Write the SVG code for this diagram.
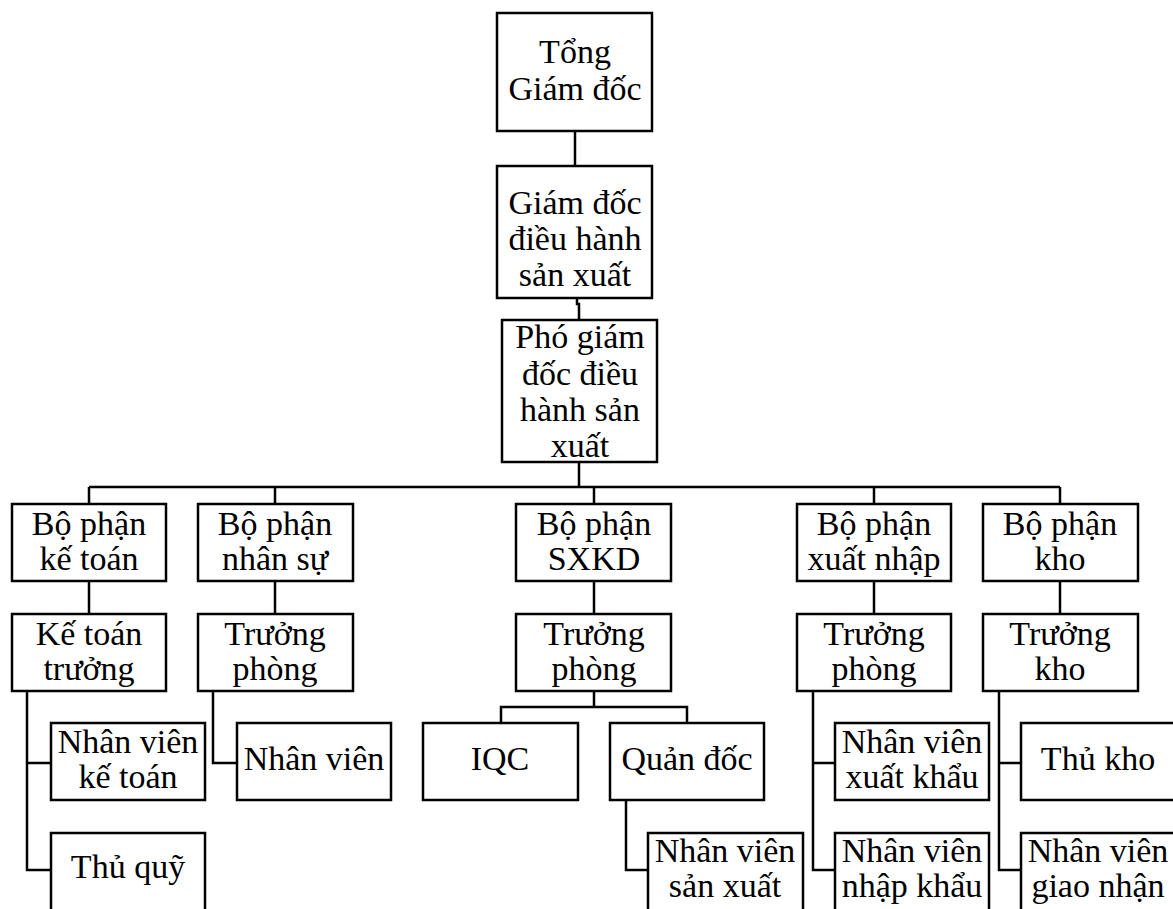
<svg xmlns="http://www.w3.org/2000/svg" width="1173" height="909" viewBox="0 0 1173 909">
<style>
.b{fill:#fff;stroke:#000;stroke-width:2.5}
.t{font-family:"Liberation Serif","Times New Roman",serif;font-size:34px;fill:#000;text-anchor:middle}
.c{fill:none;stroke:#000;stroke-width:2.5}
</style>
<rect width="1173" height="909" fill="#fff"/>
<g id="connectors">
<path class="c" d="M575 131V166"/>
<path class="c" d="M577 298V304H579V320"/>
<path class="c" d="M579 462V487"/>
<path class="c" d="M89 487H1060"/>
<path class="c" d="M89 487V504M275 487V504M594 487V504M874 487V504M1060 487V504"/>
<path class="c" d="M89 581V614M275 581V614M594 581V614M874 581V614M1060 581V614"/>
<path class="c" d="M27 691V870H51M27 763H51"/>
<path class="c" d="M213 691V763H237"/>
<path class="c" d="M594 691V707M501 723V707H687V723"/>
<path class="c" d="M626 800V870H648"/>
<path class="c" d="M813 691V870H835M813 763H835"/>
<path class="c" d="M999 691V870H1021M999 763H1021"/>
</g>
<g id="tgd"><rect class="b" x="497" y="13" width="155" height="118"/><text class="t" x="575" y="63">Tổng</text><text class="t" x="575" y="100">Giám đốc</text></g>
<g id="gddh"><rect class="b" x="497" y="166" width="155" height="132"/><text class="t" x="575" y="214">Giám đốc</text><text class="t" x="575" y="250">điều hành</text><text class="t" x="575" y="286">sản xuất</text></g>
<g id="pgd"><rect class="b" x="502" y="320" width="155" height="142"/><text class="t" x="580" y="348">Phó giám</text><text class="t" x="580" y="385">đốc điều</text><text class="t" x="580" y="421">hành sản</text><text class="t" x="580" y="457">xuất</text></g>
<g id="bpkt"><rect class="b" x="12" y="504" width="154" height="77"/><text class="t" x="89" y="535">Bộ phận</text><text class="t" x="89" y="570">kế toán</text></g>
<g id="bpns"><rect class="b" x="198" y="504" width="155" height="77"/><text class="t" x="275" y="535">Bộ phận</text><text class="t" x="275" y="570">nhân sự</text></g>
<g id="bpsx"><rect class="b" x="516" y="504" width="155" height="77"/><text class="t" x="594" y="535">Bộ phận</text><text class="t" x="594" y="570">SXKD</text></g>
<g id="bpxn"><rect class="b" x="797" y="504" width="154" height="77"/><text class="t" x="874" y="535">Bộ phận</text><text class="t" x="874" y="570">xuất nhập</text></g>
<g id="bpk"><rect class="b" x="983" y="504" width="155" height="77"/><text class="t" x="1060" y="535">Bộ phận</text><text class="t" x="1060" y="570">kho</text></g>
<g id="ktt"><rect class="b" x="12" y="614" width="154" height="77"/><text class="t" x="89" y="645">Kế toán</text><text class="t" x="89" y="680">trưởng</text></g>
<g id="tpns"><rect class="b" x="198" y="614" width="155" height="77"/><text class="t" x="275" y="645">Trưởng</text><text class="t" x="275" y="680">phòng</text></g>
<g id="tpsx"><rect class="b" x="516" y="614" width="155" height="77"/><text class="t" x="594" y="645">Trưởng</text><text class="t" x="594" y="680">phòng</text></g>
<g id="tpxn"><rect class="b" x="797" y="614" width="154" height="77"/><text class="t" x="874" y="645">Trưởng</text><text class="t" x="874" y="680">phòng</text></g>
<g id="tk"><rect class="b" x="983" y="614" width="155" height="77"/><text class="t" x="1060" y="645">Trưởng</text><text class="t" x="1060" y="680">kho</text></g>
<g id="nvkt"><rect class="b" x="51" y="723" width="154" height="77"/><text class="t" x="128" y="753">Nhân viên</text><text class="t" x="128" y="788">kế toán</text></g>
<g id="tq"><rect class="b" x="51" y="833" width="154" height="80"/><text class="t" x="128" y="878">Thủ quỹ</text></g>
<g id="nvns"><rect class="b" x="237" y="723" width="154" height="77"/><text class="t" x="314" y="770">Nhân viên</text></g>
<g id="iqc"><rect class="b" x="423" y="723" width="155" height="77"/><text class="t" x="500" y="770">IQC</text></g>
<g id="qd"><rect class="b" x="610" y="723" width="154" height="77"/><text class="t" x="687" y="770">Quản đốc</text></g>
<g id="nvsx"><rect class="b" x="648" y="833" width="155" height="80"/><text class="t" x="725" y="862">Nhân viên</text><text class="t" x="725" y="897">sản xuất</text></g>
<g id="nvxk"><rect class="b" x="835" y="723" width="154" height="77"/><text class="t" x="912" y="753">Nhân viên</text><text class="t" x="912" y="788">xuất khẩu</text></g>
<g id="nvnk"><rect class="b" x="835" y="833" width="154" height="80"/><text class="t" x="912" y="862">Nhân viên</text><text class="t" x="912" y="897">nhập khẩu</text></g>
<g id="thk"><rect class="b" x="1021" y="723" width="154" height="77"/><text class="t" x="1098" y="770">Thủ kho</text></g>
<g id="nvgn"><rect class="b" x="1021" y="833" width="154" height="80"/><text class="t" x="1098" y="862">Nhân viên</text><text class="t" x="1098" y="897">giao nhận</text></g>
</svg>
